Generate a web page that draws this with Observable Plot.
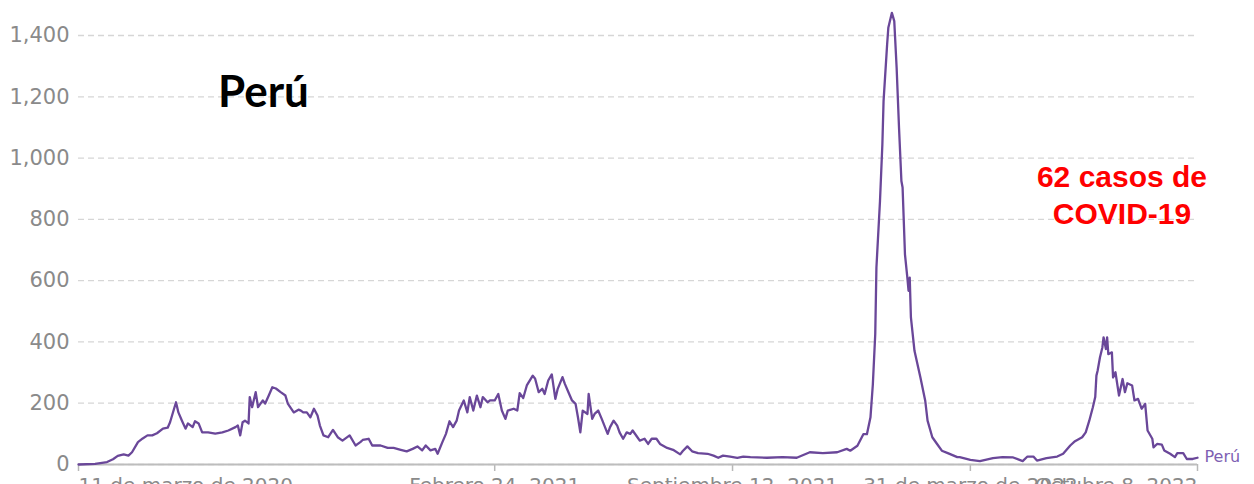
<!DOCTYPE html>
<html>
<head>
<meta charset="utf-8">
<script src="https://cdn.jsdelivr.net/npm/d3@7"></script>
<script src="https://cdn.jsdelivr.net/npm/@observablehq/plot@0.6"></script>
<style>
  html, body { margin: 0; padding: 0; background: #fff; overflow: hidden; }
  #chart { width: 1254px; height: 484px; overflow: hidden; }
  #chart svg { display: block; overflow: visible; }
</style>
</head>
<body>
<div id="chart"></div>
<script>
// ---- data ----
const tickDateStrings = ["2020-03-11", "2021-02-24", "2021-09-12", "2022-03-31", "2022-10-08"];
const tickLabels = ["11 de marzo de 2020", "Febrero 24, 2021", "Septiembre 12, 2021", "31 de marzo de 2022", "Octubre 8, 2022"];
const yTicks = [0, 200, 400, 600, 800, 1000, 1200, 1400];
const seriesName = "Perú";
const titleText = "Perú";
const noteLines = ["62 casos de", "COVID-19"];

// days since 2020-03-11
const days = [
  0, 14, 24, 29, 33, 38, 42, 45, 50, 54, 58, 62, 66, 71, 75, 77, 82, 84, 87, 90,
  92, 96, 98, 101, 104, 109, 115, 121, 126, 132, 134, 136, 138, 140, 143, 144, 146, 149, 151, 155,
  157, 160, 163, 166, 170, 174, 176, 181, 185, 187, 189, 192, 195, 198, 201, 203, 206, 210, 214, 218,
  222, 228, 233, 237, 239, 244, 247, 254, 260, 265, 271, 276, 281, 285, 289, 292, 296, 300, 302, 306,
  309, 312, 315, 318, 320, 324, 327, 329, 332, 335, 338, 340, 344, 346, 350, 353, 356, 359, 361, 366,
  369, 371, 374, 377, 382, 384, 387, 390, 392, 395, 398, 401, 403, 407, 409, 412, 415, 418, 420, 422,
  424, 428, 429, 432, 434, 437, 440, 445, 447, 450, 453, 455, 458, 461, 464, 466, 470, 472, 476, 479,
  482, 486, 489, 495, 500, 506, 508, 512, 516, 521, 529, 534, 538, 542, 548, 554, 559, 565, 579, 592,
  604, 615, 626, 638, 646, 649, 655, 660, 663, 666, 668, 670, 671, 674, 676, 677, 680, 681, 684, 686,
  688, 690, 692, 693, 695, 697, 698, 699, 700, 703, 708, 712, 714, 718, 722, 726, 731, 739, 741, 750,
  758, 769, 777, 786, 794, 798, 803, 806, 814, 823, 828, 834, 838, 844, 847, 850, 853, 855, 856, 857,
  859, 861, 862, 864, 865, 866, 869, 870, 872, 875, 878, 880, 882, 886, 888, 891, 894, 897, 899, 903,
  904, 907, 911, 913, 918, 922, 924, 929, 932, 937, 941
];
const cases = [
  0, 2, 8, 17, 28, 33, 29, 40, 73, 85, 95, 95, 102, 117, 120, 138, 203, 170, 143, 117,
  134, 122, 141, 134, 105, 105, 101, 105, 111, 122, 127, 95, 138, 143, 134, 220, 187, 236, 187, 209,
  199, 225, 252, 248, 236, 225, 199, 170, 179, 176, 170, 170, 154, 182, 160, 127, 95, 89, 113, 89,
  78, 95, 62, 73, 80, 84, 62, 62, 54, 54, 48, 43, 51, 59, 46, 62, 46, 51, 35, 73,
  100, 141, 122, 143, 176, 209, 170, 220, 176, 225, 187, 220, 203, 209, 209, 230, 176, 149, 176, 182,
  176, 233, 217, 258, 290, 280, 236, 247, 230, 274, 294, 214, 247, 285, 263, 236, 209, 198, 154, 105,
  176, 165, 230, 149, 165, 176, 149, 100, 122, 143, 127, 105, 84, 105, 100, 111, 89, 78, 84, 67,
  84, 84, 67, 54, 48, 33, 43, 59, 43, 37, 35, 29, 22, 29, 26, 22, 26, 24, 22, 24,
  22, 40, 37, 40, 51, 45, 61, 99, 99, 154, 262, 425, 643, 860, 1045, 1186, 1371, 1425, 1474, 1447,
  1294, 1099, 925, 904, 686, 610, 567, 610, 480, 371, 284, 209, 143, 89, 67, 45, 37, 24, 24, 15,
  11, 21, 24, 23, 11, 26, 26, 13, 21, 26, 35, 62, 76, 89, 105, 143, 187, 220, 290, 306,
  350, 382, 415, 377, 415, 360, 366, 284, 301, 225, 279, 236, 265, 258, 209, 214, 182, 198, 111, 84,
  56, 67, 65, 46, 35, 24, 37, 37, 18, 18, 22
];

// ---- build ----
const tickDates = tickDateStrings.map(s => new Date(s + "T00:00:00Z"));
const start = tickDates[0].getTime();
const data = days.map((d, i) => ({ date: new Date(start + d * 864e5), value: cases[i] }));
const ticks = tickDates.map((d, i) => ({ date: d, label: tickLabels[i] }));

const lineColor = "#6a4799";
const axisGray = "#8a8a8a";

const chart = Plot.plot({
  width: 1254,
  height: 520,
  marginLeft: 78,
  marginRight: 57,
  marginTop: 35,
  marginBottom: 56,
  style: { fontFamily: "DejaVu Sans, sans-serif", background: "white", overflow: "visible" },
  x: { type: "utc", domain: [tickDates[0], tickDates[tickDates.length - 1]], axis: null, label: null },
  y: { domain: [0, 1400], axis: null, label: null },
  marks: [
    Plot.gridY(yTicks, { stroke: "#d6d6d6", strokeOpacity: 1, strokeDasharray: "6,4", strokeWidth: 1.3 }),
    Plot.axisY(yTicks, { label: null, tickSize: 0, tickPadding: 9, tickFormat: d3.format(","), fill: axisGray, fontSize: 21 }),
    Plot.axisX(tickDates, { label: null, tickSize: 7, tickFormat: () => "", stroke: "#b8b8b8", strokeWidth: 1.5 }),
    Plot.ruleY([0], { stroke: "#bdbdbd", strokeWidth: 2 }),
    Plot.text(ticks.slice(0, 1), { x: "date", text: "label", frameAnchor: "bottom", lineAnchor: "top", dy: 13, textAnchor: "start", fill: axisGray, fontSize: 20 }),
    Plot.text(ticks.slice(1, -1), { x: "date", text: "label", frameAnchor: "bottom", lineAnchor: "top", dy: 13, textAnchor: "middle", fill: axisGray, fontSize: 20 }),
    Plot.text(ticks.slice(-1), { x: "date", text: "label", frameAnchor: "bottom", lineAnchor: "top", dy: 13, textAnchor: "end", fill: axisGray, fontSize: 20 }),
    Plot.lineY(data, { x: "date", y: "value", stroke: lineColor, strokeWidth: 2.3, strokeLinejoin: "round" }),
    Plot.text(data, Plot.selectLast({ x: "date", y: "value", text: () => seriesName, textAnchor: "start", dx: 7, dy: -1, fill: "#7e5fb3", fontSize: 16 }))
  ]
});

document.getElementById("chart").appendChild(chart);

// annotations
const svg = d3.select(chart);
svg.append("text")
  .attr("x", 218).attr("y", 107)
  .attr("text-anchor", "start")
  .attr("font-family", "Lato, 'Open Sans', sans-serif")
  .attr("font-weight", 700)
  .attr("font-size", 44)
  .attr("fill", "#000")
  .text(titleText);

const note = svg.append("text")
  .attr("font-family", "'Liberation Sans', Arial, sans-serif")
  .attr("font-weight", 700)
  .attr("font-size", 30)
  .attr("fill", "#ff0000")
  .attr("text-anchor", "middle");
noteLines.forEach((t, i) => {
  note.append("tspan").attr("x", 1122).attr("y", 187 + i * 37).text(t);
});
</script>
</body>
</html>
